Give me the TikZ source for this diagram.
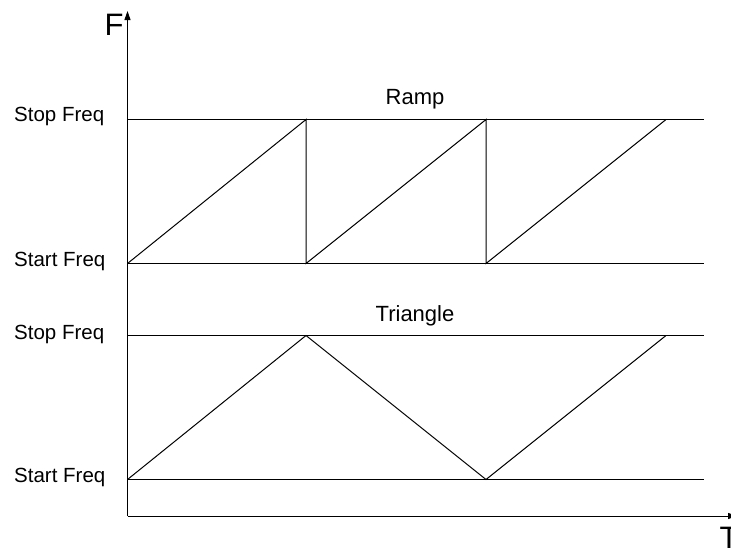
\documentclass[tikz,border=0pt]{standalone}
\usepackage{fontspec}
\setmainfont{Liberation Sans}
\usetikzlibrary{arrows.meta}
\begin{document}
\begin{tikzpicture}[x=1pt,y=-1pt,
  line/.style={line width=1pt,black},
  axis/.style={line width=1pt,black,-{Triangle[width=6pt,length=9pt]}},
  lbl/.style={inner sep=0pt,anchor=base west,font=\fontsize{20.5}{24}\selectfont},
  ttl/.style={inner sep=0pt,anchor=base,font=\fontsize{22}{26}\selectfont},
  axl/.style={inner sep=0pt,anchor=base,font=\fontsize{31}{35}\selectfont}]
\useasboundingbox (0,0) rectangle (731,547);
% coordinates
\coordinate (O) at (127.5,516);
\coordinate (Ytop) at (127.5,11);
\coordinate (Xend) at (737,516);
\coordinate (a0) at (127.5,119.5); \coordinate (a1) at (703.5,119.5);
\coordinate (b0) at (127.5,263.5); \coordinate (b1) at (703.5,263.5);
\coordinate (c0) at (127.5,335.5); \coordinate (c1) at (703.5,335.5);
\coordinate (d0) at (127.5,479.5); \coordinate (d1) at (703.5,479.5);
\coordinate (r1) at (306,119.5); \coordinate (r2) at (306,263.5);
\coordinate (r3) at (486,119.5); \coordinate (r4) at (486,263.5);
\coordinate (r5) at (666,119.5);
\coordinate (t1) at (306,335.5); \coordinate (t2) at (486,479.5);
\coordinate (t3) at (666,335.5);
% axes
\draw[axis] (O) -- (Ytop);
\draw[axis] (O) -- (Xend);
\node[axl] (F) at (114,35) {F};
\node[axl] (T) at (729,548) {T};
% level lines
\draw[line] (a0) -- (a1);
\draw[line] (b0) -- (b1);
\draw[line] (c0) -- (c1);
\draw[line] (d0) -- (d1);
% ramp
\draw[line] (b0) -- (r1) -- (r2) -- (r3) -- (r4) -- (r5);
% triangle
\draw[line] (d0) -- (t1) -- (t2) -- (t3);
% labels
\node[lbl] (s1) at (14,121) {Stop Freq};
\node[lbl] (s2) at (14,266) {Start Freq};
\node[lbl] (s3) at (14,339) {Stop Freq};
\node[lbl] (s4) at (14,482) {Start Freq};
\node[ttl] (ramp) at (415,104) {Ramp};
\node[ttl] (tri) at (415,321) {Triangle};
\end{tikzpicture}
\end{document}
